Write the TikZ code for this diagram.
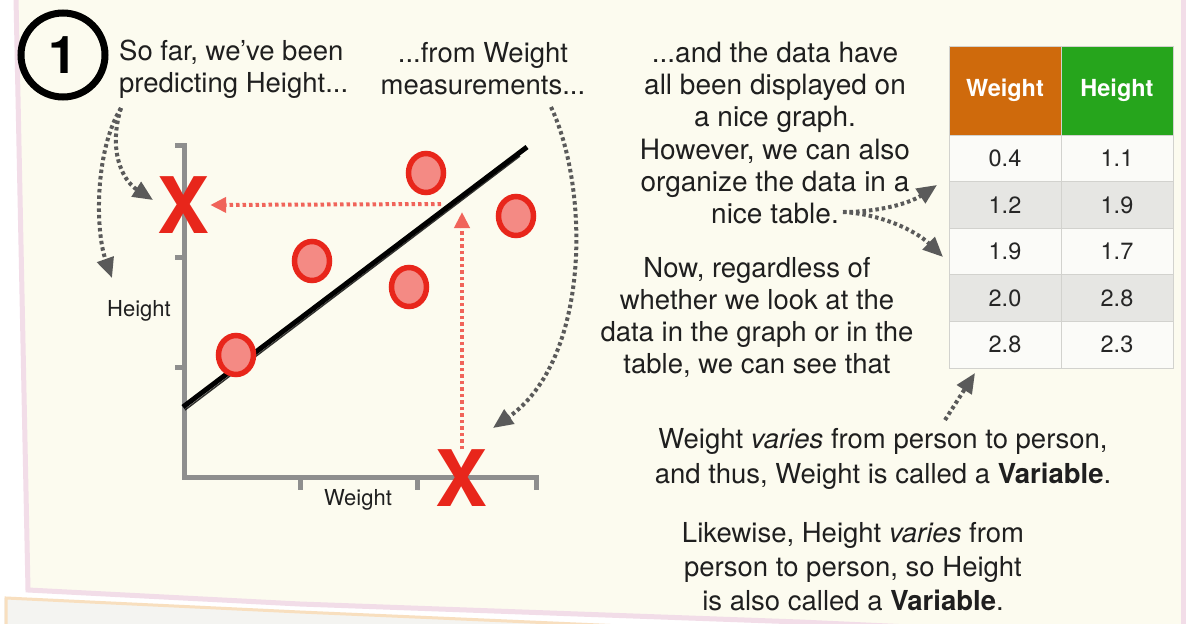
\documentclass[tikz,border=0pt]{standalone}
\usepackage{fontspec}
\setmainfont{TeX Gyre Heros}
\usetikzlibrary{arrows.meta,shapes.geometric}

\definecolor{paper}{HTML}{FCFBEF}
\definecolor{paperedge}{HTML}{F2DDE8}
\definecolor{boxgray}{HTML}{F4F4F1}
\definecolor{boxedge}{HTML}{F8DFBF}
\definecolor{axisgray}{HTML}{8E8E8E}
\definecolor{ptred}{HTML}{E8261B}
\definecolor{ptfill}{HTML}{F48A84}
\definecolor{guidered}{HTML}{F0645A}
\definecolor{pointergray}{HTML}{5A5A5A}
\definecolor{wcol}{HTML}{CF6A0C}
\definecolor{hcol}{HTML}{26A51C}
\definecolor{rowgray}{HTML}{E6E6E3}
\definecolor{rowwhite}{HTML}{FBFBF8}
\definecolor{tabline}{HTML}{D2D2CE}

\tikzset{
  txt/.style={font=\fontsize{27.5}{32}\selectfont, align=center, text=black!88},
  lab/.style={font=\fontsize{22}{22}\selectfont, text=black!88},
  pointer/.style={draw=pointergray, line width=4pt, dash pattern=on 3.5pt off 3pt,
    -{Triangle[length=20pt,width=17pt]}},
  guide/.style={draw=guidered, line width=4pt, dash pattern=on 3.5pt off 3pt,
    -{Triangle[length=16pt,width=15pt]}},
  axis/.style={draw=axisgray, line width=5pt},
  pt/.style={ellipse, draw=ptred, fill=ptfill, line width=5.5pt,
    minimum width=35pt, minimum height=39pt},
  cross/.style={text=ptred, font=\fontsize{78}{78}\selectfont\bfseries},
  cell/.style={minimum width=112pt, minimum height=46.6pt, draw=tabline,
    line width=0.8pt, font=\fontsize{23.5}{23.5}\selectfont, text=black!85},
  head/.style={cell, minimum height=89pt, text=white,
    font=\fontsize{23.5}{23.5}\selectfont\bfseries},
}

\begin{document}
\begin{tikzpicture}[x=1pt, y=-1pt, every node/.style={inner sep=0pt}]
  \useasboundingbox (0,0) rectangle (1195,624);

  % paper
  \fill[white] (0,0) rectangle (1195,624);
  \fill[boxgray] (4,598) -- (300,612) -- (760,632) -- (4,632) -- cycle;
  \draw[boxedge, line width=3pt] (6,632) -- (6,598) -- (300,612) -- (760,632);
  \fill[paper] (16,-2) -- (1183,-2) -- (1183,640) -- (800,622) -- (300,604) -- (28,590) -- cycle;
  \draw[paperedge, line width=5pt] (16,-2) -- (28,590) -- (300,604) -- (800,622) -- (1195,640);
  \draw[paperedge, line width=5pt] (1183,-2) -- (1183,640);

  % step number
  \node[draw, circle, line width=7pt, minimum size=84pt,
    font=\fontsize{52}{52}\selectfont\bfseries] (one) at (63,55) {1};

  % texts
  \node[txt, align=left, anchor=west] (pred) at (119,69) {So far, we’ve been\\predicting Height...};
  \node[txt] (meas) at (483,69) {...from Weight\\measurements...};
  \node[txt, font=\fontsize{28}{32.2}\selectfont] (nice) at (775,133) {...and the data have\\all been displayed on\\a nice graph.\\However, we can also\\organize the data in a\\nice table.};
  \node[txt] (now) at (757,317) {Now, regardless of\\whether we look at the\\data in the graph or in the\\table, we can see that};
  \node[txt, font=\fontsize{27.5}{35}\selectfont] (wvar) at (883,459)
    {Weight \textit{varies} from person to person,\\and thus, Weight is called a \textbf{Variable}.};
  \node[txt, font=\fontsize{27.5}{34}\selectfont] (hvar) at (853,567)
    {Likewise, Height \textit{varies} from\\person to person, so Height\\is also called a \textbf{Variable}.};

  % graph
  \draw[axis] (175,145) -- (184,145) -- (184,477) -- (536,477) -- (536,490);
  \draw[axis] (175,257) -- (184,257);
  \draw[axis] (175,367) -- (184,367);
  \draw[axis] (300,477) -- (300,490);
  \draw[axis] (417,477) -- (417,490);
  \node[lab] (ylab) at (139,311) {Height};
  \node[lab] (xlab) at (358,500) {Weight};

  \draw[black, line width=5pt] (183,407) -- (527,147);
  \draw[black, line width=1.5pt, opacity=.8] (186,403.5) -- (522,150.5);
  \draw[black, line width=1.5pt, opacity=.8] (185,410) -- (520,156);

  \node[pt] (p1) at (426,173) {};
  \node[pt] (p2) at (516,216) {};
  \node[pt] (p3) at (312,261) {};
  \node[pt] (p4) at (409,287) {};
  \node[pt] (p5) at (236,355) {};

  \node[cross] (xh) at (184,205) {X};
  \node[cross] (xw) at (462,478) {X};

  \coordinate (hstart) at (441,204);
  \coordinate (vend) at (462,212);
  \draw[guide] (hstart) -- (xh.east);
  \draw[guide] (xw.north) -- (vend);

  % table
  \node[head, fill=wcol] (hw) at (1005,90.5) {Weight};
  \node[head, fill=hcol] (hh) at (1117,90.5) {Height};
  \foreach \w/\h/\rc [count=\i] in {0.4/1.1/rowwhite, 1.2/1.9/rowgray,
      1.9/1.7/rowwhite, 2.0/2.8/rowgray, 2.8/2.3/rowwhite} {
    \node[cell, fill=\rc] (w\i) at (1005,111.7+46.6*\i) {\w};
    \node[cell, fill=\rc] (h\i) at (1117,111.7+46.6*\i) {\h};
  }

  % pointers
  \coordinate (predfoot) at (121,108);
  \coordinate (yaxisend) at (112,278);
  \coordinate (xhend) at (153,200);
  \coordinate (measfoot) at (551,107);
  \coordinate (xwend) at (493,428);
  \coordinate (tabsrc) at (843,212);
  \coordinate (tabend1) at (937,185);
  \coordinate (tabend2) at (943,257);
  \coordinate (varfoot) at (945,420);
  \coordinate (tabfoot) at (975,373);
  \draw[pointer] (predfoot) .. controls (108,150) and (122,180) .. (xhend);
  \draw[pointer] (predfoot) .. controls (95,150) and (95,230) .. (yaxisend);
  \draw[pointer] (measfoot) .. controls (590,190) and (590,360) .. (xwend);
  \draw[pointer] (tabsrc) .. controls (880,212) and (910,203) .. (tabend1);
  \draw[pointer] (tabsrc) .. controls (880,214) and (915,230) .. (tabend2);
  \draw[pointer] (varfoot) -- (tabfoot);
\end{tikzpicture}
\end{document}
